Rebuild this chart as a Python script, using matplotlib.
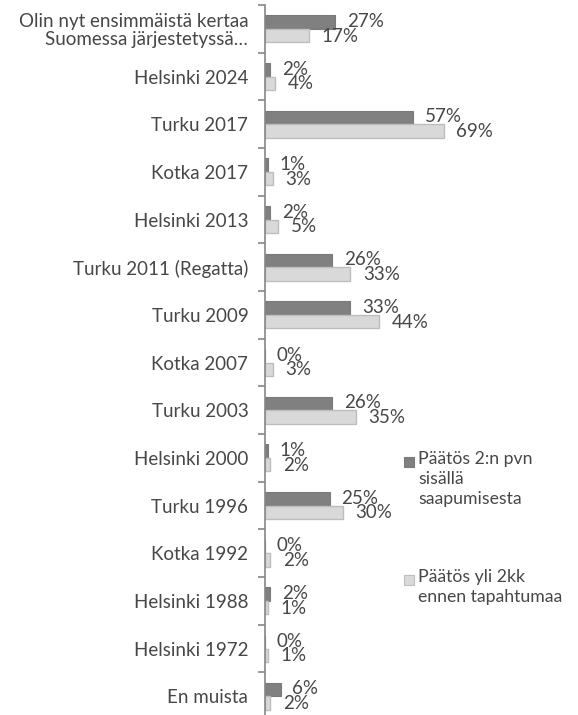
import matplotlib
matplotlib.use("Agg")
import matplotlib.pyplot as plt
from matplotlib.patches import Rectangle
import numpy as np

categories = [
    "Olin nyt ensimmäistä kertaa\nSuomessa järjestetyssä…",
    "Helsinki 2024", "Turku 2017", "Kotka 2017", "Helsinki 2013",
    "Turku 2011 (Regatta)", "Turku 2009", "Kotka 2007", "Turku 2003",
    "Helsinki 2000", "Turku 1996", "Kotka 1992", "Helsinki 1988",
    "Helsinki 1972", "En muista",
]
within_2_days = [27, 2, 57, 1, 2, 26, 33, 0, 26, 1, 25, 0, 2, 0, 6]
over_2_months = [17, 4, 69, 3, 5, 33, 44, 3, 35, 2, 30, 2, 1, 1, 2]
series_names = ["Päätös 2:n pvn\nsisällä\nsaapumisesta",
                "Päätös yli 2kk\nennen tapahtumaa"]

plt.rcParams['font.family'] = ['Lato', 'DejaVu Sans']
W, H = 578, 715
fig = plt.figure(figsize=(W / 100, H / 100), dpi=100)

left = 265 / W
top_px, bot_px = 5, 720
ax = fig.add_axes([left, 1 - bot_px / H, 1 - left, (bot_px - top_px) / H])

dark = "#808080"
light = "#d9d9d9"
txt = "#474747"
fs = 13.5
n = len(categories)
y = np.arange(n)
bh = 0.28
ax.barh(y - bh / 2, within_2_days, height=bh, color=dark, edgecolor="#7a7a7a", linewidth=0.8)
ax.barh(y + bh / 2, over_2_months, height=bh, color=light, edgecolor="#bdbdbd", linewidth=1.0)

px_per_pct = 2.59
ax.set_xlim(0, (W - 265) / px_per_pct)
ax.set_ylim(n - 0.5, -0.5)

for i in range(n):
    ax.annotate(f"{within_2_days[i]}%", (within_2_days[i], y[i] - bh / 2), xytext=(8.5, 0.5),
                textcoords="offset points", va="center", ha="left", fontsize=fs, color=txt)
    ax.annotate(f"{over_2_months[i]}%", (over_2_months[i], y[i] + bh / 2), xytext=(9, -0.5),
                textcoords="offset points", va="center", ha="left", fontsize=fs, color=txt)

for s in ["top", "right", "bottom"]:
    ax.spines[s].set_visible(False)
ax.spines["left"].set_color("#868686")
ax.spines["left"].set_linewidth(1.2)
ax.set_xticks([])
ax.set_yticks(np.arange(n + 1) - 0.5)
ax.set_yticklabels([])
ax.set_yticks(y, minor=True)
ax.set_yticklabels(categories, minor=True, fontsize=fs, color=txt)
ax.tick_params(axis="y", which="major", length=5, color="#868686", width=1.2)
ax.tick_params(axis="y", which="minor", length=0, pad=12)
for lbl in ax.get_yticklabels(minor=True):
    lbl.set_horizontalalignment("right")
    lbl.set_multialignment("right")
    lbl.set_linespacing(1.05)

# legend
leg_items = [(dark, "#7a7a7a", series_names[0], 462), (light, "#bdbdbd", series_names[1], 580)]
for fc, ec, label, ypx in leg_items:
    fig.patches.append(Rectangle((404 / W, 1 - (ypx + 5) / H), 10 / W, 10 / H,
                                 transform=fig.transFigure, facecolor=fc, edgecolor=ec, linewidth=0.8))
    fig.text(418 / W, 1 - (ypx - 11) / H, label, ha="left", va="top", fontsize=12.7,
             color=txt, linespacing=1.3)

fig.savefig("out.png", dpi=100)
